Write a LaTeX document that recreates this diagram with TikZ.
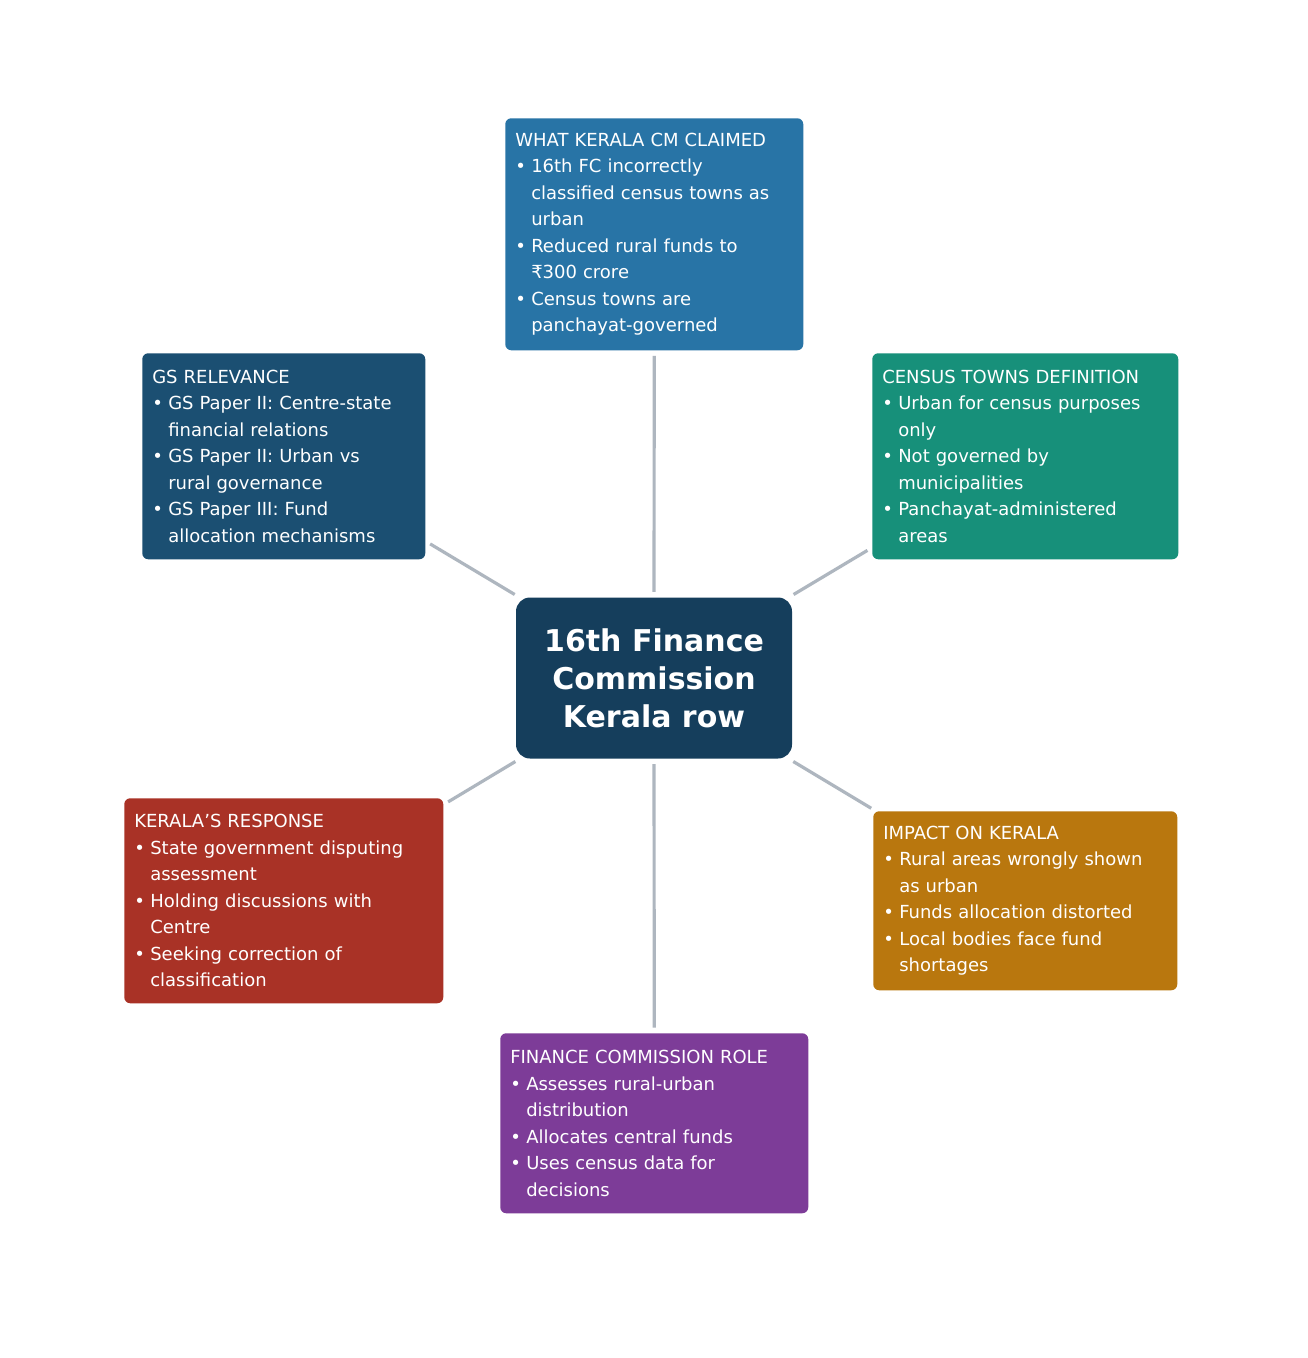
\documentclass[tikz,border=0pt]{standalone}
\usepackage{fontspec}
\setmainfont{DejaVu Sans}
\definecolor{cblue}{HTML}{2874A6}
\definecolor{cnavy}{HTML}{1B4F72}
\definecolor{cteal}{HTML}{17907A}
\definecolor{ccenter}{HTML}{153E5C}
\definecolor{cred}{HTML}{A93226}
\definecolor{corange}{HTML}{B9770E}
\definecolor{cpurple}{HTML}{7D3C98}
\definecolor{cline}{HTML}{AEB6BF}
\newcommand\bitem{\par\hangindent=12pt\hangafter=1\makebox[12pt][l]{•}}
\newcommand\btitle[1]{#1}
\begin{document}
\begin{tikzpicture}[x=0.75pt,y=-0.75pt,
  box/.style={draw=none,rounded corners=4.5pt,anchor=north west,text=white,
    inner sep=7.5pt,font=\fontsize{13.5}{19.9}\selectfont,align=left},
  link/.style={draw=cline,line width=2.4pt,shorten <=4pt,shorten >=4pt}]
\fill[white] (0,0) rectangle (1308,1358);
\node[fill=ccenter,rounded corners=10.5pt,minimum width=207pt,minimum height=120.75pt,text=white,
  font=\fontsize{22.5}{28.5}\selectfont\bfseries,align=center] (c) at (654,678)
  {16th Finance\\Commission\\Kerala row};
\node[box,fill=cblue,minimum width=223.5pt,minimum height=174pt,text width=208.5pt] (t) at (505,118)
 {\parbox{208.5pt}{\raggedright WHAT KERALA CM CLAIMED\bitem 16th FC incorrectly\newline classified census towns as\newline urban\bitem Reduced rural funds to\newline ₹300 crore\bitem Census towns are\newline panchayat-governed}};
\node[box,fill=cnavy,minimum width=212.25pt,minimum height=154.5pt,text width=197.25pt] (g) at (142,353)
 {\parbox{200pt}{\raggedright GS RELEVANCE\bitem GS Paper II: Centre-state\newline financial relations\bitem GS Paper II: Urban vs\newline rural governance\bitem GS Paper III: Fund\newline allocation mechanisms}};
\node[box,fill=cteal,minimum width=229.5pt,minimum height=154.5pt,text width=214.5pt] (ct) at (872,353)
 {\parbox{214.5pt}{\raggedright CENSUS TOWNS DEFINITION\bitem Urban for census purposes\newline only\bitem Not governed by\newline municipalities\bitem Panchayat-administered\newline areas}};
\node[box,fill=cred,minimum width=239.25pt,minimum height=153.75pt,text width=224.25pt] (k) at (124,798)
 {\parbox{224.25pt}{\raggedright KERALA'S RESPONSE\bitem State government disputing\newline assessment\bitem Holding discussions with\newline Centre\bitem Seeking correction of\newline classification}};
\node[box,fill=corange,minimum width=228pt,minimum height=134.25pt,text width=213pt] (i) at (873,811)
 {\parbox{213pt}{\raggedright IMPACT ON KERALA\bitem Rural areas wrongly shown\newline as urban\bitem Funds allocation distorted\bitem Local bodies face fund\newline shortages}};
\node[box,fill=cpurple,minimum width=231pt,minimum height=135pt,text width=216pt] (f) at (500,1033)
 {\parbox{216pt}{\raggedright FINANCE COMMISSION ROLE\bitem Assesses rural-urban\newline distribution\bitem Allocates central funds\bitem Uses census data for\newline decisions}};
\draw[link] (c) -- (t);
\draw[link] (c) -- (g);
\draw[link] (c) -- (ct);
\draw[link] (c) -- (k);
\draw[link] (c) -- (i);
\draw[link] (c) -- (f);
\end{tikzpicture}
\end{document}
